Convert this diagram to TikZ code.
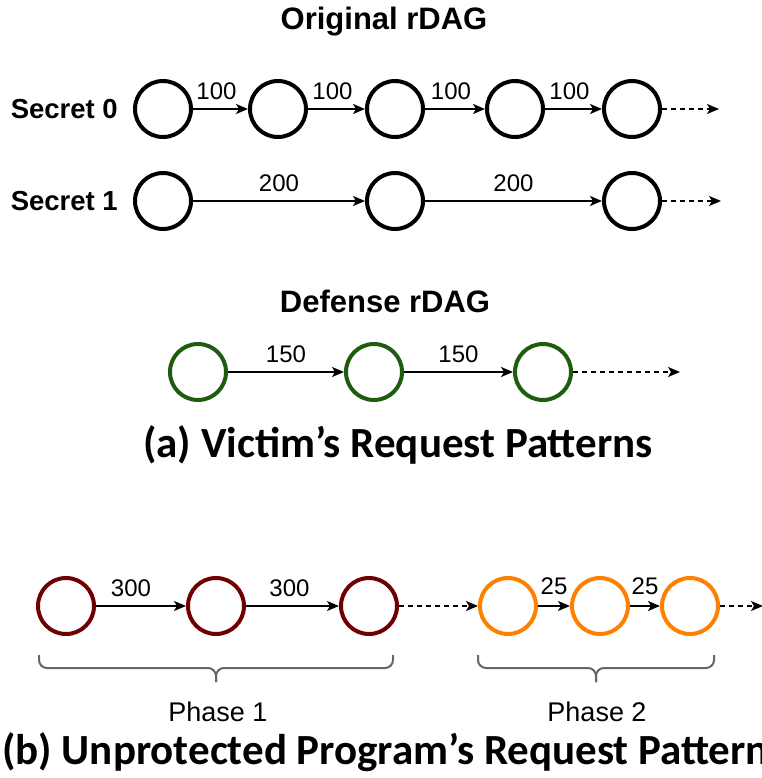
\documentclass[tikz,border=0pt]{standalone}
\usepackage{fontspec}
\setmainfont{Liberation Sans}
\newfontfamily\capfont{Carlito}
\usetikzlibrary{arrows.meta,calc}
\definecolor{defgreen}{HTML}{1E5C0E}
\definecolor{progred}{HTML}{6F0000}
\definecolor{progorange}{HTML}{FF8000}
\definecolor{bracegray}{HTML}{666666}
\tikzstyle{req}=[circle,draw=black,line width=4pt,minimum size=56pt,inner sep=0pt]
\tikzstyle{gap}=[-{Stealth[length=12pt,width=10pt,inset=3pt]},line width=1.6pt]
\tikzstyle{gapmore}=[gap,dash pattern=on 5pt off 4pt]
\tikzstyle{weight}=[above,inner sep=0pt,yshift=8pt,font=\fontsize{24}{24}\selectfont]
\tikzstyle{rowlabel}=[anchor=east,inner sep=0pt,font=\fontsize{27.5}{27.5}\selectfont\bfseries]
\tikzstyle{dagtitle}=[inner sep=0pt,font=\fontsize{31}{31}\selectfont\bfseries]
\tikzstyle{caption}=[inner sep=0pt,font=\fontsize{43}{43}\selectfont\capfont\bfseries]
\tikzstyle{phasebrace}=[bracegray,line width=2pt,rounded corners=8pt]
\newcommand{\drawphasebrace}[3]{% left x, right x, top y
  \pgfmathsetmacro{\midx}{(#1+#2)/2}
  \draw[phasebrace] (#1,#3) |- ({\midx},{#3+13}) -- ({\midx},{#3+27});
  \draw[phasebrace] (#2,#3) |- ({\midx},{#3+13}) -- ({\midx},{#3+27});
}

\begin{document}
\begin{tikzpicture}[x=1pt,y=-1pt]
	\useasboundingbox (0,0) rectangle (761,778);
	% (a) original rDAG
	\node[dagtitle] (origtitle) at (384,22) {Original rDAG};
	\node[rowlabel] (secret0) at (118,109) {Secret 0};
	\node[rowlabel] (secret1) at (118,201) {Secret 1};
	\node[req] (s0a) at (163,109) {};
	\node[req] (s0b) at (278,109) {};
	\node[req] (s0c) at (395,109) {};
	\node[req] (s0d) at (515,109) {};
	\node[req] (s0e) at (632,109) {};
	\coordinate (s0end) at (719,109);
	\draw[gap] (s0a) -- node[weight,xshift=-4pt] {100} (s0b);
	\draw[gap] (s0b) -- node[weight,xshift=-4pt] {100} (s0c);
	\draw[gap] (s0c) -- node[weight,xshift=-4pt] {100} (s0d);
	\draw[gap] (s0d) -- node[weight,xshift=-4pt] {100} (s0e);
	\draw[gapmore] (s0e) -- (s0end);
	\node[req] (s1a) at (163,201) {};
	\node[req] (s1b) at (395,201) {};
	\node[req] (s1c) at (632,201) {};
	\coordinate (s1end) at (721,201);
	\draw[gap] (s1a) -- node[weight] {200} (s1b);
	\draw[gap] (s1b) -- node[weight] {200} (s1c);
	\draw[gapmore] (s1c) -- (s1end);
	% defense rDAG
	\node[dagtitle] (deftitle) at (385,301) {Defense rDAG};
	\node[req,draw=defgreen] (da) at (198,372) {};
	\node[req,draw=defgreen] (db) at (374,372) {};
	\node[req,draw=defgreen] (dc) at (543,372) {};
	\coordinate (dend) at (680,372);
	\draw[gap] (da) -- node[weight] {150} (db);
	\draw[gap] (db) -- node[weight] {150} (dc);
	\draw[gapmore] (dc) -- (dend);
	\node[caption] (capa) at (398,445) {(a) Victim’s Request Patterns};
	% (b) unprotected program
	\node[req,draw=progred] (pa) at (66,606) {};
	\node[req,draw=progred] (pb) at (216,606) {};
	\node[req,draw=progred] (pc) at (369,606) {};
	\node[req,draw=progorange] (qa) at (508,606) {};
	\node[req,draw=progorange] (qb) at (600,606) {};
	\node[req,draw=progorange] (qc) at (690,606) {};
	\coordinate (qend) at (763,606);
	\draw[gap] (pa) -- node[weight,xshift=-10pt] {300} (pb);
	\draw[gap] (pb) -- node[weight,xshift=-3pt] {300} (pc);
	\draw[gapmore] (pc) -- (qa);
	\draw[gap] (qa) -- node[weight,yshift=2pt] {25} (qb);
	\draw[gap] (qb) -- node[weight,yshift=2pt] {25} (qc);
	\draw[gapmore] (qc) -- (qend);
	\drawphasebrace{39}{393}{655}
	\drawphasebrace{478}{714}{655}
	\node[inner sep=0pt,font=\fontsize{27}{27}\selectfont] (phase1) at (218,712) {Phase 1};
	\node[inner sep=0pt,font=\fontsize{27}{27}\selectfont] (phase2) at (597,712) {Phase 2};
	\node[caption,anchor=west] (capb) at (2,752) {(b) Unprotected Program’s Request Patterns};
\end{tikzpicture}
\end{document}
